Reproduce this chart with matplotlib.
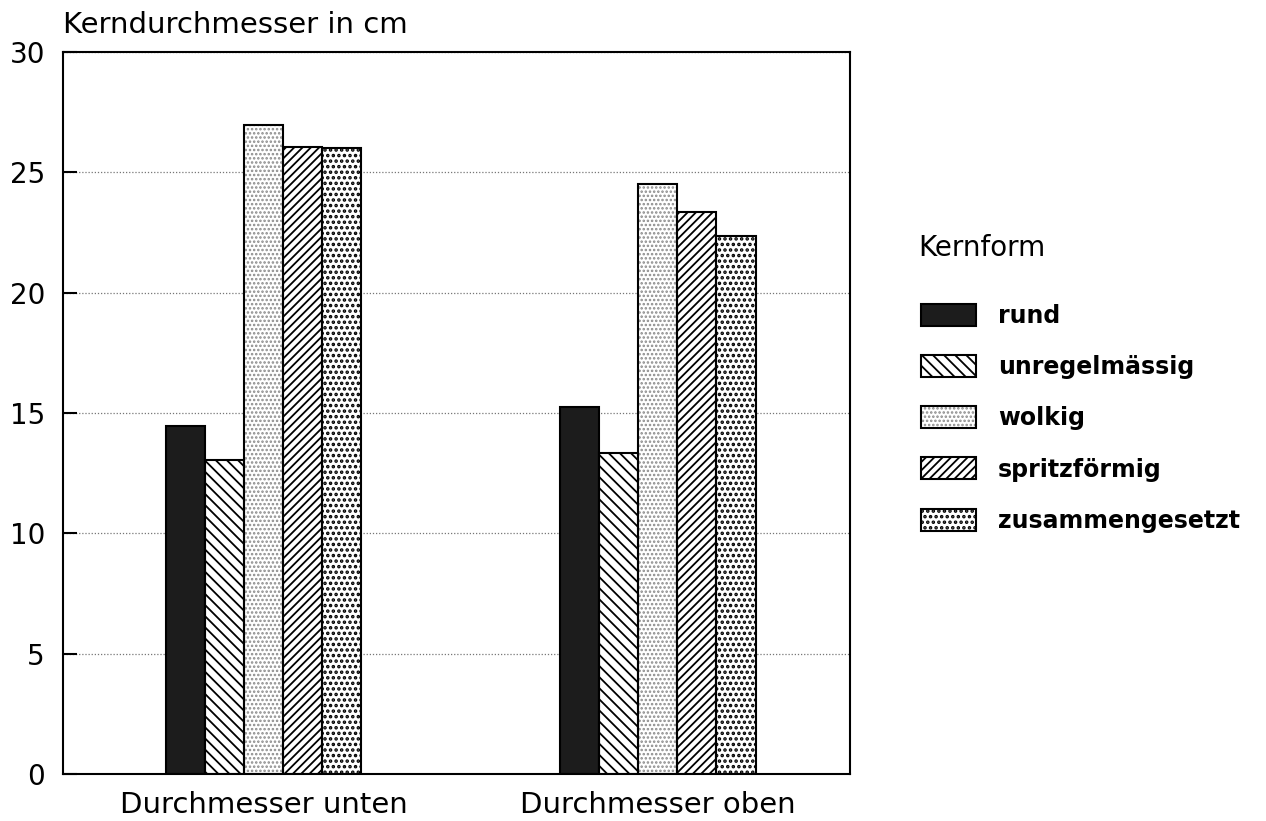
import matplotlib
matplotlib.use("Agg")
import matplotlib.pyplot as plt
from matplotlib.legend_handler import HandlerTuple

groups = ["Durchmesser unten", "Durchmesser oben"]
formen = ["rund", "unregelmässig", "wolkig", "spritzförmig", "zusammengesetzt"]
unten = [14.45, 13.05, 26.95, 26.05, 26.0]
oben = [15.25, 13.35, 24.5, 23.35, 22.35]
yticks = [0, 5, 10, 15, 20, 25, 30]

# fill style per Kernform: (facecolor, hatch, hatch colour, hatch linewidth)
styles = [
    ("#1c1c1c", "", "#1c1c1c", 1.0),
    ("white", "\\\\\\", "black", 1.3),
    ("white", "....", "#8a8a8a", 1.2),
    ("white", "////", "black", 1.3),
    ("white", "...", "black", 1.7),
]

plt.rcParams["font.family"] = ["DejaVu Sans"]

fig = plt.figure(figsize=(12.66, 8.21), dpi=100)
ax = fig.add_axes([0.0498, 0.0572, 0.6216, 0.8794])

width = 0.099
x = [0, 1]
handles = []
for i, name in enumerate(formen):
    vals = [unten[i], oben[i]]
    pos = [xi + (i - 2) * width for xi in x]
    fc, hatch, hc, hlw = styles[i]
    fill = ax.bar(pos, vals, width, color=fc, edgecolor=hc, hatch=hatch,
                  linewidth=0, zorder=2)
    for p in fill:
        if hasattr(p, "set_hatch_linewidth"):
            p.set_hatch_linewidth(hlw)
    outline = ax.bar(pos, vals, width, fill=False, edgecolor="black",
                     linewidth=1.5, zorder=3)
    handles.append((fill[0], outline[0]))

ax.set_xlim(-0.508, 1.487)
ax.set_ylim(0, 30)
ax.set_yticks(yticks)
ax.set_xticks(x)
ax.set_xticklabels(groups, fontsize=21)
ax.tick_params(axis="y", direction="in", length=10, width=1.5, labelsize=20, pad=13)
ax.tick_params(axis="x", direction="in", length=9, width=1.5, pad=12)
for t in ax.xaxis.get_major_ticks():
    t.tick1line.set_zorder(6)

ax.yaxis.grid(True, linestyle=(0, (1, 1.5)), color="#777777", linewidth=0.9, zorder=0)
ax.set_axisbelow(True)
for s in ax.spines.values():
    s.set_linewidth(1.5)
    s.set_zorder(4)

ax.annotate("Kerndurchmesser in cm", xy=(0, 1), xycoords="axes fraction",
            xytext=(0, 14), textcoords="offset points", ha="left", va="baseline",
            fontsize=21)

# legend title set apart a little more than the entries
fig.text(0.7251, 0.6882, "Kernform", fontsize=20, ha="left", va="baseline")
leg = fig.legend(handles, formen, handler_map={tuple: HandlerTuple(ndivide=1)},
                 loc="upper left", bbox_to_anchor=(0.7185, 0.6444), frameon=False,
                 prop={"size": 17, "weight": "bold"},
                 handlelength=2.33, handleheight=1.06, handletextpad=0.9,
                 labelspacing=1.15, borderpad=0)
for h, st in zip(leg.legend_handles, styles):
    if hasattr(h, "set_hatch_linewidth"):
        h.set_hatch_linewidth(st[3])

fig.savefig("out.png", dpi=100)
